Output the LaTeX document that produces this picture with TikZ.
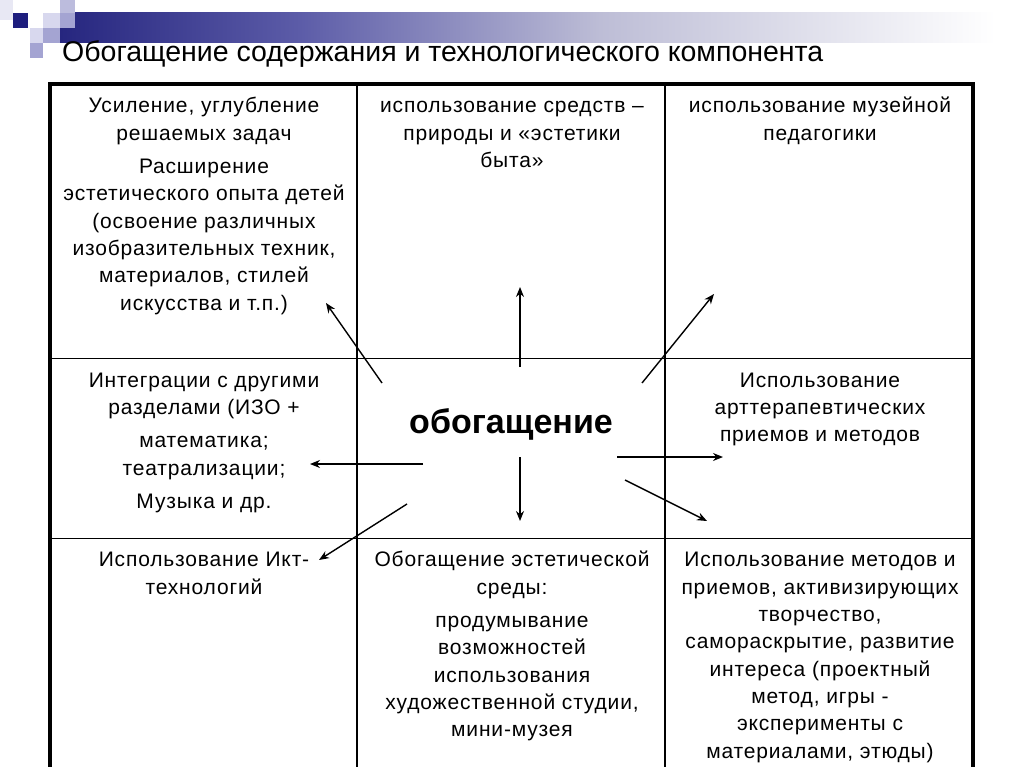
\documentclass[tikz,border=0pt]{standalone}
\usepackage{fontspec}
\setmainfont{Liberation Sans}
\newfontfamily\cellfont{Liberation Sans}[LetterSpace=4]
\usetikzlibrary{arrows.meta}
\definecolor{navy}{HTML}{1E1E7E}
\definecolor{barA}{HTML}{26267F}
\definecolor{barB}{HTML}{5C5CA8}
\definecolor{barC}{HTML}{BDBDD6}
\definecolor{sqlight}{HTML}{D8D8EE}
\definecolor{sqmid}{HTML}{A4A4D2}
\definecolor{sqfaint}{HTML}{E8E8F4}
\newcommand{\fl}{\rule{0pt}{17pt}}
\begin{document}
\begin{tikzpicture}[x=1pt,y=-1pt,
  cell/.style={align=center, inner sep=0pt, anchor=north, font=\cellfont\fontsize{21}{27.3}\selectfont},
  arr/.style={-{Stealth[length=10pt,width=8pt]}, line width=1.4pt},
  frame/.style={line width=3.5pt},
  gridline/.style={line width=1.8pt}]
\useasboundingbox (0,0) rectangle (1024,767);
\fill[white] (0,0) rectangle (1024,767);
% header decoration
\shade[left color=barA, right color=barB] (60,13) rectangle (300,43);
\shade[left color=barB, right color=barC] (299.5,13) rectangle (600,43);
\shade[left color=barC, right color=white] (599.5,13) rectangle (995,43);
\fill[sqfaint] (0,0) rectangle (13,20);
\fill[navy] (13,13) rectangle (28,28);
\fill[sqlight] (43,13) rectangle (60,28);
\fill[sqlight!85!navy] (60,0) rectangle (75,13);
\fill[sqmid] (60,13) rectangle (75,28);
\fill[sqlight] (30,28) rectangle (43,43);
\fill[sqmid] (43,28) rectangle (60,43);
\fill[sqmid] (30,43) rectangle (43,58);
% title
\node[anchor=base west, inner sep=0pt, font=\fontsize{28.5}{34}\selectfont] (title) at (62,62) {Обогащение содержания и технологического компонента};
% table
\draw[gridline] (357,84) -- (357,767);
\draw[gridline] (665,84) -- (665,767);
\draw[gridline] (50,358.5) -- (973,358.5);
\draw[gridline] (50,538.5) -- (973,538.5);
\draw[frame] (50,767) -- (50,84) -- (973,84) -- (973,767);
% cells
\node[cell] (c11) at (204,95.7) {\fl Усиление, углубление\\ решаемых задач\\[6pt] Расширение\\ эстетического опыта детей\\ (освоение различных\\ изобразительных техник,\\ материалов, стилей\\ искусства и т.п.)};
\node[cell] (c12) at (512,95.7) {\fl использование средств –\\ природы и «эстетики\\ быта»};
\node[cell] (c13) at (820,95.7) {\fl использование музейной\\ педагогики};
\node[cell] (c21) at (204,370) {\fl Интеграции с другими\\ разделами (ИЗО +\\[6pt] математика;\\ театрализации;\\[6pt] Музыка и др.};
\node[cell] (c23) at (820,370) {\fl Использование\\ арттерапевтических\\ приемов и методов};
\node[cell] (c31) at (204,549.7) {\fl Использование Икт-\\ технологий};
\node[cell] (c32) at (512,549.7) {\fl Обогащение эстетической\\ среды:\\[6pt] продумывание\\ возможностей\\ использования\\ художественной студии,\\ мини-музея};
\node[cell] (c33) at (820,549.7) {\fl Использование методов и\\ приемов, активизирующих\\ творчество,\\ самораскрытие, развитие\\ интереса (проектный\\ метод, игры -\\ эксперименты с\\ материалами, этюды)};
% centre
\node[anchor=base, inner sep=0pt, font=\fontsize{34}{40}\selectfont\bfseries] (centre) at (511,433) {обогащение};
% arrow ends
\coordinate (sUL) at (382,383); \coordinate (eUL) at (326,303);
\coordinate (sU) at (520,367);  \coordinate (eU) at (520,287);
\coordinate (sUR) at (642,383); \coordinate (eUR) at (714,294);
\coordinate (sL) at (423,464);  \coordinate (eL) at (310,464);
\coordinate (sR) at (617,457);  \coordinate (eR) at (723,457);
\coordinate (sD) at (520,457);  \coordinate (eD) at (520,521);
\coordinate (sDR) at (625,480); \coordinate (eDR) at (707,521);
\coordinate (sDL) at (407,504); \coordinate (eDL) at (319,560);
\draw[arr] (sUL) -- (eUL);
\draw[arr] (sU) -- (eU);
\draw[arr] (sUR) -- (eUR);
\draw[arr] (sL) -- (eL);
\draw[arr] (sR) -- (eR);
\draw[arr] (sD) -- (eD);
\draw[arr] (sDR) -- (eDR);
\draw[arr] (sDL) -- (eDL);
\end{tikzpicture}
\end{document}
